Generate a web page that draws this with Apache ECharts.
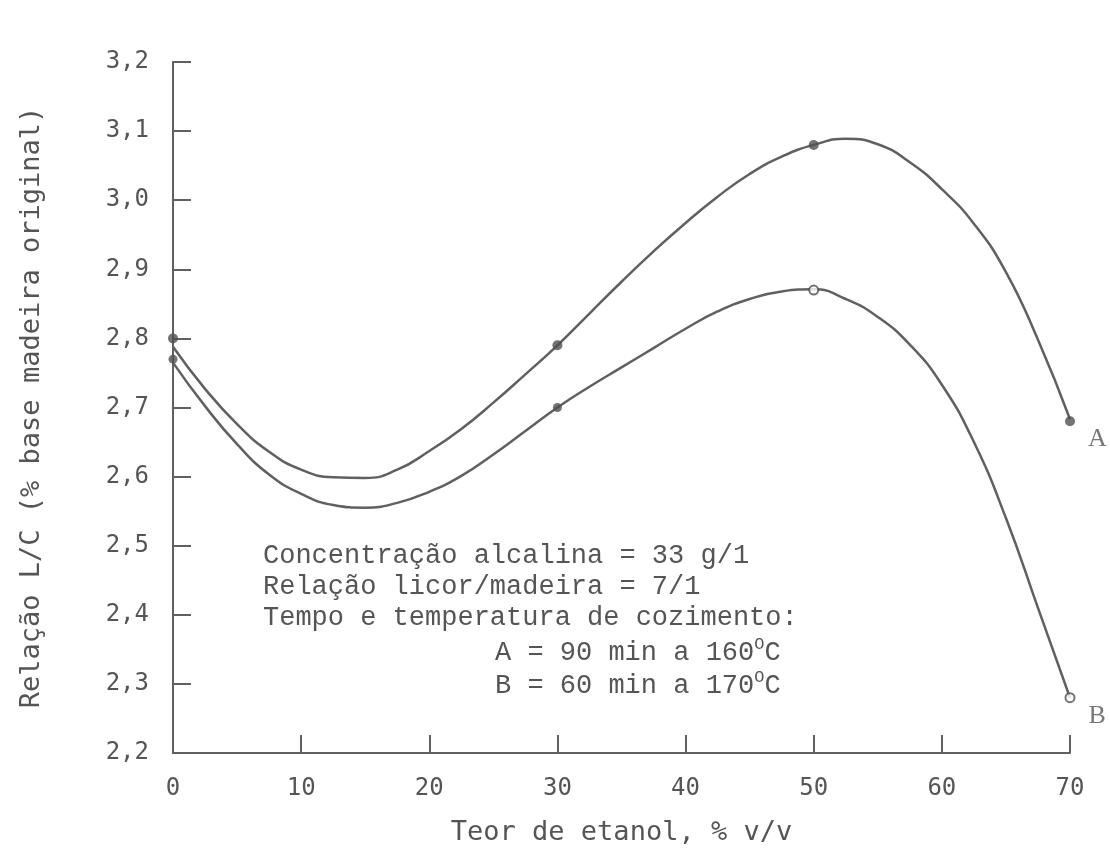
<!DOCTYPE html>
<html>
<head>
<meta charset="utf-8">
<script src="https://cdn.jsdelivr.net/npm/echarts@6/dist/echarts.min.js"></script>
<style>
  html, body { margin: 0; padding: 0; background: #fff; }
  #chart { width: 1110px; height: 848px; }
</style>
</head>
<body>
<div id="chart"></div>
<script>
// curvas ajustadas
var xCurve = [0, 2.5, 5, 7.5, 10, 12.5, 15, 17.5, 20, 22.5, 25, 27.5, 30, 32.5, 35, 37.5, 40, 42.5, 45, 47.5, 50, 52.5, 55, 57.5, 60, 62.5, 65, 67.5, 70];
var curveA = [2.788, 2.727, 2.676, 2.636, 2.610, 2.599, 2.598, 2.610, 2.637, 2.669, 2.707, 2.748, 2.790, 2.836, 2.882, 2.926, 2.967, 3.005, 3.038, 3.063, 3.080, 3.089, 3.081, 3.055, 3.016, 2.966, 2.896, 2.798, 2.683];
var curveB = [2.765, 2.702, 2.647, 2.603, 2.575, 2.559, 2.555, 2.562, 2.578, 2.601, 2.632, 2.666, 2.700, 2.730, 2.758, 2.786, 2.814, 2.839, 2.857, 2.868, 2.871, 2.857, 2.831, 2.791, 2.733, 2.650, 2.540, 2.410, 2.280];

// pontos experimentais
var ptX = [0, 30, 50, 70];
var ptA = [2.80, 2.79, 3.08, 2.68];
var ptB = [2.77, 2.70, 2.87, 2.28];

var grey = '#606060';
var textGrey = '#555';
var monoFont = '"DejaVu Sans Mono", monospace';
var noteFont = '"Liberation Mono", monospace';

function pairs(xs, ys) {
    return xs.map(function (x, i) { return [x, ys[i]]; });
}

var chart = echarts.init(document.getElementById('chart'));

var option = {
    backgroundColor: '#fff',
    animation: false,
    grid: { left: 173, top: 62, right: 40, bottom: 95, outerBoundsMode: 'none' },
    xAxis: {
        type: 'value',
        min: 0, max: 70, interval: 10,
        name: 'Teor de etanol, % v/v',
        nameLocation: 'middle',
        nameGap: 66,
        nameTextStyle: { fontFamily: monoFont, fontSize: 27, color: textGrey },
        axisLine: { lineStyle: { color: grey, width: 2 } },
        axisTick: { inside: true, length: 18, lineStyle: { color: grey, width: 2 } },
        axisLabel: { fontFamily: monoFont, fontSize: 24, color: textGrey, margin: 24 },
        splitLine: { show: false }
    },
    yAxis: {
        type: 'value',
        min: 2.2, max: 3.2, interval: 0.1,
        name: 'Relação L/C (% base madeira original)',
        nameLocation: 'middle',
        nameGap: 128,
        nameTextStyle: { fontFamily: monoFont, fontSize: 27, color: textGrey },
        axisLine: { show: true, lineStyle: { color: grey, width: 2 } },
        axisTick: { show: true, inside: true, length: 18, lineStyle: { color: grey, width: 2 } },
        axisLabel: {
            fontFamily: monoFont, fontSize: 24, color: textGrey, margin: 24,
            formatter: function (v) { return v.toFixed(1).replace('.', ','); }
        },
        splitLine: { show: false }
    },
    series: [
        {
            name: 'A',
            type: 'line',
            smooth: true,
            showSymbol: false,
            data: pairs(xCurve, curveA),
            lineStyle: { color: grey, width: 2.5 },
            z: 2
        },
        {
            name: 'B',
            type: 'line',
            smooth: true,
            showSymbol: false,
            data: pairs(xCurve, curveB),
            lineStyle: { color: grey, width: 2.5 },
            z: 2
        },
        {
            name: 'A',
            type: 'scatter',
            symbolSize: 10,
            itemStyle: { color: '#505050' },
            data: pairs(ptX, ptA).map(function (p, i) {
                var d = { value: p };
                if (i === ptX.length - 1) {
                    d.label = {
                        show: true, position: 'right', offset: [8, 18],
                        formatter: 'A', fontFamily: '"Liberation Serif", serif',
                        fontSize: 26, color: textGrey
                    };
                }
                return d;
            }),
            z: 3
        },
        {
            name: 'B',
            type: 'scatter',
            symbolSize: 9,
            data: pairs(ptX, ptB).map(function (p, i) {
                var open = p[0] >= 50;
                var d = {
                    value: p,
                    itemStyle: open
                        ? { color: '#fff', borderColor: '#505050', borderWidth: 2 }
                        : { color: '#505050' }
                };
                if (i === ptX.length - 1) {
                    d.label = {
                        show: true, position: 'right', offset: [8, 18],
                        formatter: 'B', fontFamily: '"Liberation Serif", serif',
                        fontSize: 26, color: textGrey
                    };
                }
                return d;
            }),
            z: 3
        }
    ],
    graphic: [
        {
            type: 'text', left: 263, top: 540,
            style: {
                text: 'Concentração alcalina = 33 g/1\nRelação licor/madeira = 7/1\nTempo e temperatura de cozimento:',
                font: '27px ' + noteFont, fill: textGrey, lineHeight: 31
            }
        },
        {
            type: 'text', left: 495, top: 636,
            style: {
                text: 'A = 90 min a 160{s|O}C\nB = 60 min a 170{s|O}C',
                font: '27px ' + noteFont, fill: textGrey, lineHeight: 33,
                rich: {
                    s: { font: '17px ' + noteFont, fill: textGrey, verticalAlign: 'top', lineHeight: 33, padding: [0, 0, 12, 0] }
                }
            }
        }
    ]
};

chart.setOption(option);
</script>
</body>
</html>
